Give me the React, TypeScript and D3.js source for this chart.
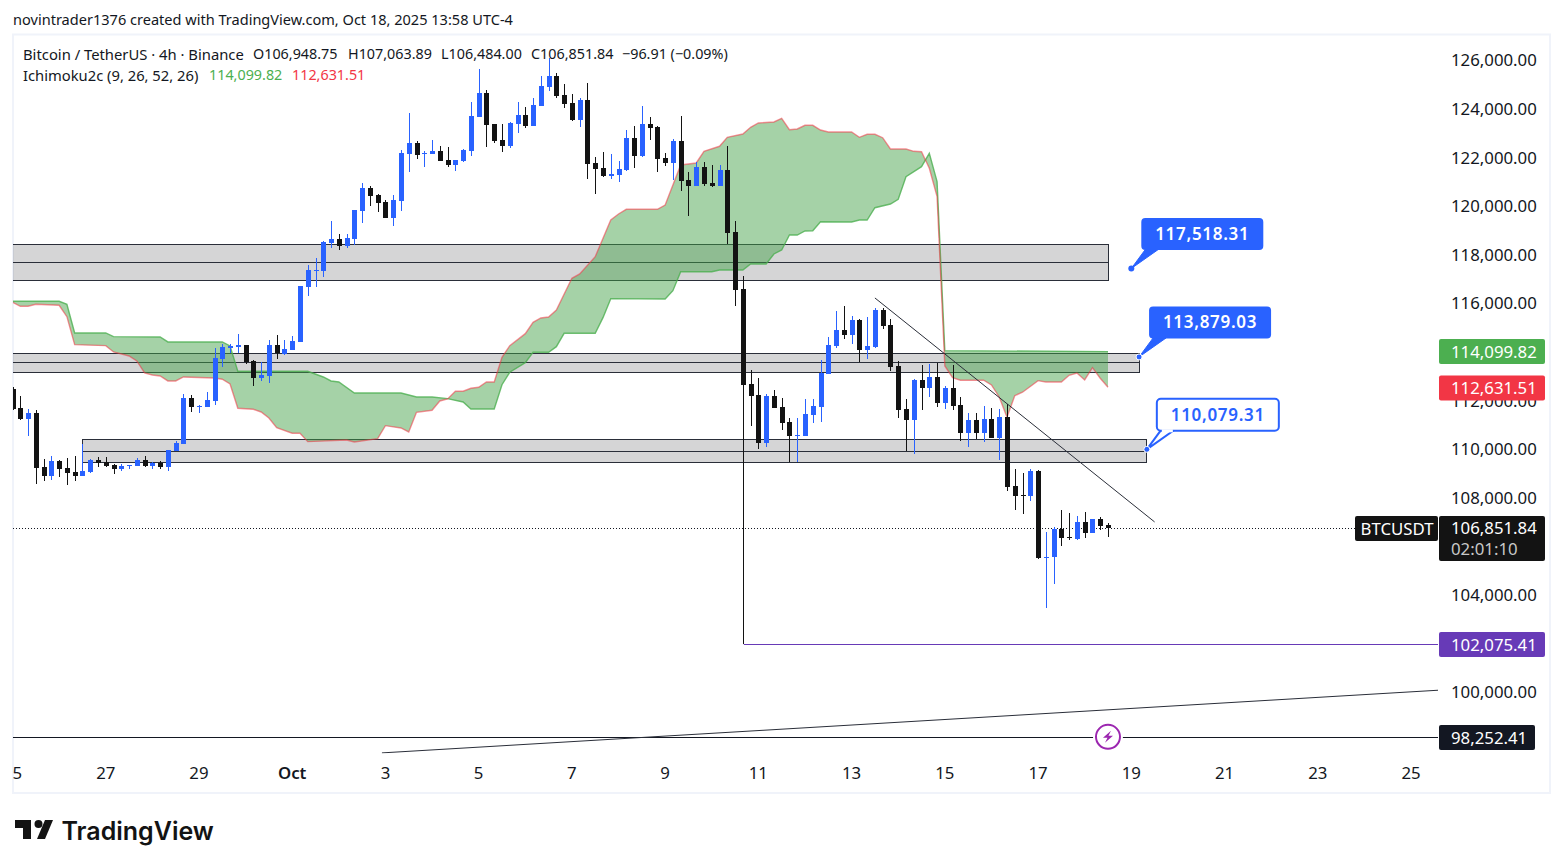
import * as d3 from "d3"

const opens = [
  112562, 111781, 111341, 111575, 109354, 108996, 109601, 109313, 109149, 108984,
  109149, 109643, 109547, 109437, 109272, 109396, 109396, 109643, 109396, 109531,
  109354, 110013, 110301, 112192, 111849, 111822, 112069, 113797, 114249, 114290,
  114372, 113714, 113015, 113097, 114372, 114002, 114167, 114496, 116758, 117416,
  117416, 118568, 118732, 118444, 118732, 119884, 120830, 120542, 120254, 119596,
  120295, 122228, 122680, 122228, 122228, 122351, 121981, 121775, 121940, 122351,
  123750, 124737, 123462, 122804, 122557, 123462, 123832, 123380, 124202, 124984,
  125436, 124655, 124326, 123626, 124449, 121858, 121652, 121323, 121364, 121570,
  122886, 122146, 123462, 123339, 122063, 121858, 122763, 121159, 120912, 121693,
  121035, 120912, 121570, 119020, 116675, 112768, 112316, 110342, 112275, 111822,
  111205, 110630, 110630, 111493, 111822, 113180, 114331, 114989, 114784, 115400,
  114167, 114290, 115812, 115195, 113508, 111740, 111287, 112933, 112604, 113056,
  111987, 112604, 111905, 110753, 111287, 110753, 111329, 110548, 111411, 108573,
  108203, 108162, 109190, 105625, 105653, 106804, 106475, 106393, 107092, 106640,
  107215, 106948.75,
]
const highs = [
  112645, 112275, 111740, 111699, 109684, 109807, 109643, 109725, 109807, 110301,
  109684, 109766, 109766, 109478, 109478, 109437, 109725, 109807, 109560, 109601,
  110054, 110424, 112357, 112316, 111905, 112439, 114249, 114414, 114414, 114825,
  114372, 113755, 113673, 114578, 114784, 114578, 114743, 116799, 117662, 117951,
  118650, 119472, 118938, 118938, 119925, 121035, 120912, 120583, 120336, 120542,
  122392, 123914, 122763, 122351, 122804, 122557, 122516, 121981, 122434, 124367,
  125724, 124860, 123462, 123462, 123544, 124367, 124161, 124531, 125436, 126176,
  125560, 125107, 124696, 124531, 125148, 122105, 122310, 122228, 121940, 123215,
  123380, 124202, 123750, 123380, 122269, 122845, 123791, 121488, 121899, 121899,
  121775, 121775, 122557, 119472, 117210, 113344, 113015, 112357, 112521, 112192,
  111370, 111370, 112151, 112151, 113755, 114701, 115771, 115976, 115565, 115442,
  115524, 115894, 115894, 115442, 113714, 112151, 112974, 113550, 113591, 113632,
  112686, 113550, 112234, 111575, 111575, 111863, 111781, 111740, 111945, 109272,
  109108, 109272, 109231, 106681, 106887, 107586, 107462, 107339, 107503, 107215,
  107298, 107063.89,
]
const lows = [
  111699, 111287, 110630, 108656, 108779, 108820, 108943, 108614, 108779, 108984,
  109108, 109354, 109354, 109066, 109190, 109272, 109396, 109354, 109272, 109272,
  109190, 110013, 110301, 111616, 111575, 111822, 111905, 113467, 114043, 114043,
  113591, 112686, 112892, 112810, 113797, 113961, 114167, 114496, 116388, 116758,
  117169, 118362, 118280, 118362, 118485, 119390, 120089, 119842, 119596, 119267,
  119884, 121488, 122022, 121693, 122228, 121940, 121693, 121529, 121899, 122146,
  123750, 122516, 122680, 122310, 122475, 123092, 123297, 123380, 124202, 124819,
  124531, 124120, 123585, 123339, 121200, 120583, 121282, 121200, 121076, 121529,
  121652, 122105, 122804, 121488, 121734, 121159, 120706, 119678, 120912, 120912,
  120871, 120912, 118526, 115976, 102075, 111041, 110095, 110177, 111781, 110876,
  109560, 109560, 110630, 111164, 111205, 113180, 114249, 114619, 114414, 113673,
  113797, 114249, 115031, 113303, 111370, 110013, 109889, 111699, 112234, 111822,
  111740, 111699, 110424, 110177, 110506, 110383, 110548, 109643, 108367, 107586,
  107421, 107956, 105571, 103555, 104542, 106105, 106352, 106352, 106434, 106640,
  106763, 106484,
]
const closes = [
  111752, 111341, 111575, 109326, 108996, 109601, 109272, 109120, 108984, 109190,
  109643, 109531, 109396, 109272, 109396, 109437, 109643, 109396, 109519, 109367,
  110054, 110342, 112192, 111822, 111863, 112110, 113838, 114290, 114331, 114372,
  113673, 113015, 113139, 114372, 114043, 114208, 114537, 116799, 117457, 117457,
  118609, 118732, 118444, 118773, 119925, 120830, 120501, 120213, 119596, 120336,
  122269, 122680, 122187, 122269, 122351, 121940, 121775, 121981, 122392, 123791,
  124737, 123421, 122763, 122557, 123503, 123832, 123380, 124243, 125025, 125436,
  124613, 124284, 123626, 124449, 121817, 121611, 121323, 121405, 121611, 122886,
  122146, 123462, 123297, 122022, 121858, 122763, 121117, 120912, 121693, 120994,
  120912, 121570, 118979, 116634, 112727, 112275, 110342, 112275, 111781, 111164,
  110630, 110671, 111534, 111863, 113221, 114372, 114989, 114784, 115400, 114167,
  114331, 115812, 115154, 113467, 111699, 111287, 112933, 112604, 113056, 111987,
  112604, 111863, 110753, 111287, 110753, 111329, 110548, 111411, 108532, 108162,
  108162, 109190, 105612, 105666, 106804, 106434, 106434, 107092, 106640, 107215,
  106928, 106851.84,
]

// Ichimoku lead lines, read at the vertices of each line
const leadAIdx = [
  0, 6, 7, 8, 12, 13, 19, 20, 27, 28, 29, 38, 40, 41, 42, 44, 50, 52, 54, 56, 58, 59, 62, 63, 64, 66, 67, 69, 70, 71,
  75, 76, 77, 84, 85, 86, 90, 91, 94, 95, 97, 98, 99, 100, 101, 102, 103, 104, 108, 109, 110, 111, 113, 114, 115, 117,
  118, 119, 120, 141,
]
const leadAVal = [
  116170, 116170, 116046, 114866, 114866, 114714, 114701, 114496, 114496, 114331, 113290, 113290, 113056, 112892,
  112851, 112398, 112398, 112234, 112234, 112164, 112028, 111740, 111740, 112739, 113249, 113644, 114072, 114072,
  114302, 114853, 114853, 115495, 116277, 116264, 116606, 117387, 117387, 117457, 117457, 117704, 117704, 118115,
  118280, 118896, 118896, 119061, 119073, 119444, 119431, 119513, 119513, 120019, 120172, 120365, 121294, 121706,
  122257, 121089, 114138, 114099.82,
]
const leadBIdx = [
  0, 1, 2, 3, 6, 7, 8, 12, 13, 15, 16, 17, 18, 19, 20, 21, 22, 26, 27, 28, 29, 31, 32, 33, 34, 36, 37, 38, 43, 44, 47,
  48, 50, 51, 52, 54, 55, 56, 57, 58, 59, 60, 61, 62, 63, 64, 66, 67, 68, 69, 70, 72, 73, 75, 77, 78, 79, 83, 84, 86,
  88, 89, 91, 92, 94, 95, 96, 98, 99, 100, 101, 102, 103, 104, 105, 108, 109, 110, 111, 112, 113, 115, 116, 117, 118,
  119, 120, 121, 122, 125, 126, 127, 128, 129, 130, 132, 133, 135, 136, 137, 138, 139, 140, 141,
]
const leadBVal = [
  116128, 115964, 115964, 116046, 116005, 115536, 114384, 114344, 114084, 113920, 113714, 113221, 113139, 113097,
  112892, 112892, 113056, 113015, 112962, 112768, 111769, 111727, 111616, 111370, 110971, 110740, 110740, 110395,
  110465, 110383, 110518, 111053, 110958, 110794, 111604, 111686, 112069, 112151, 112468, 112468, 112591, 112632,
  112851, 112851, 113866, 114344, 114837, 115306, 115483, 115524, 115812, 117115, 117293, 118004, 119513, 119760,
  119953, 119953, 120130, 121775, 121858, 122339, 122545, 122915, 123051, 123326, 123503, 123544, 123696, 123227,
  123256, 123408, 123408, 123215, 123133, 123133, 122915, 123038, 123038, 122898, 122434, 122434, 122339, 122323,
  121640, 120472, 113508, 113027, 112920, 112920, 112727, 112234, 111398, 112287, 112427, 112904, 112851, 112851,
  113126, 113221, 112933, 113439, 113002, 112631.51,
]

const priceTicks = [126000, 124000, 122000, 120000, 118000, 116000, 112000, 110000, 108000, 104000, 100000]
const dateLabels = ["25", "27", "29", "Oct", "3", "5", "7", "9", "11", "13", "15", "17", "19", "21", "23", "25"]
const dateIdx = [0, 12, 24, 36, 48, 60, 72, 84, 96, 108, 120, 132, 144, 156, 168, 180]

// zones: start idx, end idx, top, mid, bottom
const zoneStart = [-2, -2, 9]
const zoneEnd = [141.1, 145, 146]
const zoneTop = [118506, 114031, 110494]
const zoneMid = [117765, 113661, 110000]
const zoneBottom = [117025, 113250, 109548]

const calloutIdx = [144, 145, 146]
const calloutPrice = [117518.31, 113879.03, 110079.31]

const lastPrice = 106851.84
const lowPrice = 102075.41
const supportPrice = 98252.41
const leadALast = 114099.82
const leadBLast = 112631.51

const trendDown = [
  [111, 116306],
  [147, 107093],
]
const trendUp = [
  [47.55, 97592],
  [183.5, 100170],
]

const FONT = "'Noto Sans', sans-serif"
const BLUE = "#2962ff"
const BLACK = "#131313"
const PURPLE = "#673ab7"
const PANE_L = 13
const PANE_R = 1438
const AXIS_SIZE = 16.8

const x = d3.scaleLinear().domain([0, 180]).range([12.5, 1411])
const y = d3.scaleLinear().domain([126000, 100000]).range([62.3, 694.36])

const fmt = d3.format(",.2f")

// horizontal lines sit on a whole pixel row
const rowY = (p: number) => Math.round(y(p)) + 0.5

const lineXY = d3
  .line<number[]>()
  .x((d) => x(d[0]))
  .y((d) => y(d[1]))

const leadA = leadAIdx.map((d, i) => [d, leadAVal[i]])
const leadB = leadBIdx.map((d, i) => [d, leadBVal[i]])
const cloudPath = (lineXY(leadA) as string) + "L" + (lineXY([...leadB].reverse()) as string).slice(1) + "Z"

function PriceTag({ top, h = 25, w = 106, fill, label }: { top: number; h?: number; w?: number; fill: string; label: string }) {
  return (
    <g>
      <rect x={1439} y={top} width={w} height={h} rx={2} fill={fill} />
      <text x={1451} y={top + 12} dominantBaseline="central" fontSize={AXIS_SIZE} fill="#fff">
        {label}
      </text>
    </g>
  )
}

export default function App() {
  return (
    <div style={{ position: "absolute", left: 0, top: 0, width: 1563, height: 868, background: "#fff" }}>
      <svg width={1563} height={868} style={{ display: "block" }} fontFamily={FONT}>
        <defs>
          <clipPath id="pane">
            <rect x={PANE_L} y={35} width={PANE_R - PANE_L} height={718.5} />
          </clipPath>
          <clipPath id="dates">
            <rect x={PANE_L} y={755} width={PANE_R - PANE_L} height={36} />
          </clipPath>
        </defs>

        <text x={13} y={19} dominantBaseline="central" fontSize={14.55} fill="#131722">
          novintrader1376 created with TradingView.com, Oct 18, 2025 13:58 UTC-4
        </text>
        <rect x={13} y={34.5} width={1537} height={758.5} fill="#fff" stroke="#f0f3fa" strokeWidth={2} />

        <g clipPath="url(#pane)">
          {/* zones */}
          {zoneTop.map((t, i) => (
            <g key={i} shapeRendering="crispEdges">
              <rect
                x={x(zoneStart[i])}
                y={y(t)}
                width={x(zoneEnd[i]) - x(zoneStart[i])}
                height={y(zoneBottom[i]) - y(t)}
                fill="rgba(3,3,12,0.17)"
                stroke="#2a2e39"
                strokeWidth={1}
              />
              <line
                x1={x(zoneStart[i])}
                x2={x(zoneEnd[i])}
                y1={y(zoneMid[i])}
                y2={y(zoneMid[i])}
                stroke="#2a2e39"
                strokeWidth={1}
              />
            </g>
          ))}

          {/* ichimoku cloud */}
          <path d={cloudPath} fill="rgba(67,160,71,0.48)" />
          <path d={lineXY(leadA) as string} fill="none" stroke="#4caf50" strokeWidth={1.4} strokeOpacity={0.8} />
          <path d={lineXY(leadB) as string} fill="none" stroke="#f23645" strokeWidth={1.4} strokeOpacity={0.55} />

          {/* last price line */}
          <line
            x1={PANE_L}
            x2={1355}
            y1={rowY(lastPrice)}
            y2={rowY(lastPrice)}
            stroke="#131722"
            strokeWidth={1}
            strokeDasharray="1 2"
          />

          {/* candles */}
          {opens.map((o, i) => {
            const c = closes[i]
            const color = c >= o ? BLUE : BLACK
            const cx = Math.round(x(i))
            const top = y(Math.max(o, c))
            const bottom = y(Math.min(o, c))
            return (
              <g key={i} shapeRendering="crispEdges" fill={color}>
                <rect x={cx} y={y(highs[i])} width={1} height={y(lows[i]) - y(highs[i])} />
                <rect x={cx - 2} y={top} width={5} height={Math.max(bottom - top, 1)} />
              </g>
            )
          })}

          {/* drawings */}
          <line x1={x(94) + 1} x2={PANE_R} y1={rowY(lowPrice)} y2={rowY(lowPrice)} stroke={PURPLE} strokeWidth={1} />
          <line x1={PANE_L} x2={PANE_R} y1={rowY(supportPrice)} y2={rowY(supportPrice)} stroke="#131722" strokeWidth={1} />
          <path d={lineXY(trendDown) as string} stroke="#2a2e39" strokeWidth={1} fill="none" />
          <path d={lineXY(trendUp) as string} stroke="#2a2e39" strokeWidth={1} fill="none" />

          {/* callouts */}
          {calloutPrice.map((p, i) => {
            const px = x(calloutIdx[i])
            const py = y(p)
            const light = i === 2
            return (
              <g key={i}>
                <path
                  d={`M${px},${py}L${px + 14},${py - 19}L${px + 27},${py - 19}Z`}
                  fill={light ? "#fff" : BLUE}
                  stroke={BLUE}
                  strokeWidth={light ? 2 : 1}
                />
                <rect
                  x={px + 10}
                  y={py - 50.5}
                  width={122}
                  height={32}
                  rx={4}
                  fill={light ? "#fff" : BLUE}
                  stroke={BLUE}
                  strokeWidth={light ? 2 : 0}
                />
                {light && <rect x={px + 15} y={py - 20} width={11} height={3} fill="#fff" />}
                <circle cx={px} cy={py} r={3} fill={BLUE} stroke="#fff" strokeWidth={light || i === 1 ? 1 : 0} />
                <text
                  x={px + 71}
                  y={py - 35}
                  textAnchor="middle"
                  dominantBaseline="central"
                  fontSize={17}
                  fontWeight={600}
                  letterSpacing={0.7}
                  fill={light ? BLUE : "#fff"}
                >
                  {fmt(p)}
                </text>
              </g>
            )
          })}

          {/* lightning marker */}
          <circle cx={x(141)} cy={y(supportPrice)} r={15} fill="#fff" />
          <circle cx={x(141)} cy={y(supportPrice)} r={12} fill="#fff" stroke="#9c27b0" strokeWidth={2} />
          <path
            d={`M${x(141) + 3},${y(supportPrice) - 6}L${x(141) - 5},${y(supportPrice) + 1}H${x(141) - 0.5}L${x(141) - 3},${y(supportPrice) + 6}L${x(141) + 5},${y(supportPrice) - 1}H${x(141) + 0.5}Z`}
            fill="#9c27b0"
          />
        </g>

        {/* legend */}
        <g fontSize={14.35} fill="#131722" dominantBaseline="central">
          <text x={23} y={53.5} fontSize={14.8}>Bitcoin / TetherUS · 4h · Binance</text>
          <text x={253} y={53.5}>O106,948.75</text>
          <text x={348} y={53.5}>H107,063.89</text>
          <text x={441} y={53.5}>L106,484.00</text>
          <text x={531} y={53.5}>C106,851.84</text>
          <text x={622} y={53.5}>−96.91 (−0.09%)</text>
          <text x={23} y={74.5} fontSize={14.75}>Ichimoku2c (9, 26, 52, 26)</text>
          <text x={209} y={74.5} fill="#4caf50">{fmt(leadALast)}</text>
          <text x={292} y={74.5} fill="#f23645">{fmt(leadBLast)}</text>
        </g>

        {/* price axis */}
        {priceTicks.map((t) => (
          <text key={t} x={1451} y={y(t) - 2.5} dominantBaseline="central" fontSize={AXIS_SIZE} fill="#131722">
            {fmt(t)}
          </text>
        ))}
        <PriceTag top={339} fill="#4caf50" label={fmt(leadALast)} />
        <PriceTag top={375.5} fill="#f23645" label={fmt(leadBLast)} />
        <PriceTag top={632} fill={PURPLE} label={fmt(lowPrice)} />
        <PriceTag top={725} w={96} fill="#131722" label={fmt(supportPrice)} />

        <rect x={1355} y={516} width={83} height={25} rx={2} fill={BLACK} />
        <text x={1360.5} y={528} dominantBaseline="central" fontSize={AXIS_SIZE} fill="#fff">BTCUSDT</text>
        <rect x={1439} y={516} width={106} height={45} rx={2} fill={BLACK} />
        <text x={1451} y={527.5} dominantBaseline="central" fontSize={AXIS_SIZE} fill="#fff">{fmt(lastPrice)}</text>
        <text x={1451} y={548} dominantBaseline="central" fontSize={AXIS_SIZE} fill="#c8c8c8">02:01:10</text>

        {/* date axis */}
        <g clipPath="url(#dates)">
          {dateLabels.map((d, i) => (
            <text
              key={i}
              x={x(dateIdx[i])}
              y={772}
              textAnchor="middle"
              dominantBaseline="central"
              fontSize={AXIS_SIZE}
              fontWeight={d === "Oct" ? 600 : 400}
              fill="#131722"
            >
              {d}
            </text>
          ))}
        </g>

        {/* logo */}
        <g transform="translate(15,820)" fill={BLACK}>
          <path d="M0 0H16V19H8V8H0Z" />
          <circle cx={23.5} cy={4} r={4} />
          <path d="M30 0H38L30 19H22Z" />
        </g>
        <text x={61.5} y={830.5} dominantBaseline="central" fontFamily="Inter, sans-serif" fontSize={25} fontWeight={600} fill={BLACK}>
          TradingView
        </text>
      </svg>
    </div>
  )
}
